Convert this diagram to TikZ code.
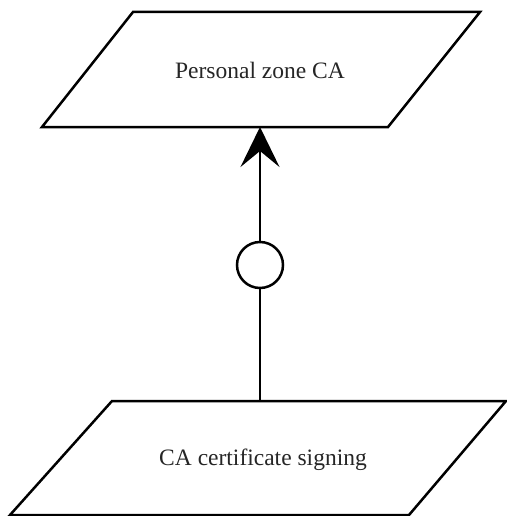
\documentclass[tikz,border=0pt]{standalone}
\usepackage{fontspec}
\setmainfont{Liberation Serif}
\usetikzlibrary{arrows.meta}
\begin{document}
\begin{tikzpicture}[x=1pt, y=-1pt,
  box/.style={draw=black, line width=2.5pt, line join=miter, fill=white},
  caption/.style={font=\fontsize{23.5}{28}\selectfont, text=black!85, inner sep=0pt},
  link/.style={draw=black, line width=2.5pt},
  ring/.style={circle, draw=black, line width=2.5pt, fill=white, minimum size=46pt, inner sep=0pt},
  ctip/.style={-{Stealth[length=40pt, width=39pt, inset=16pt]}}
]
\useasboundingbox (0,0) rectangle (506,516);

% upper parallelogram: Personal zone CA
\draw[box] (133,12) -- (480,12) -- (388,127) -- (42,127) -- cycle;
\node[caption] (pz) at (260,70) {Personal zone CA};
\coordinate (pzb) at (260,127);

% lower parallelogram: CA certificate signing
\draw[box] (112,401) -- (506,401) -- (409,515) -- (10,515) -- cycle;
\node[caption] (cs) at (263,460) {CA certificate signing};
\coordinate (cst) at (260,401);

% connector with a ring in its middle
\node[ring] (rg) at (260,265) {};
\draw[link] (cst) -- (rg);
\draw[link, ctip] (rg) -- (pzb);
\end{tikzpicture}
\end{document}
